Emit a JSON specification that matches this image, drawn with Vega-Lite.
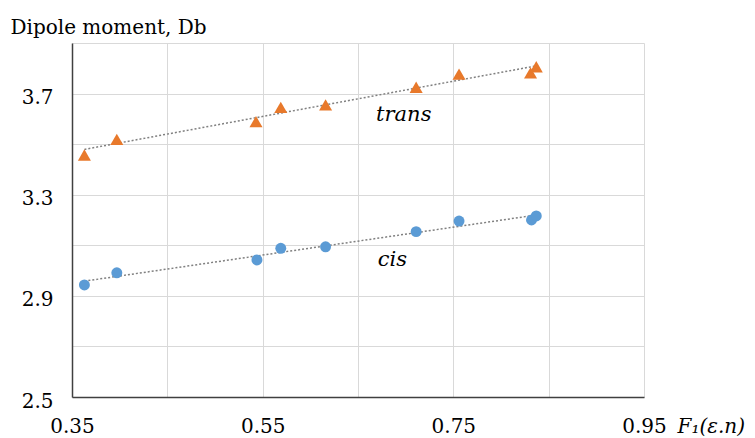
{
  "$schema": "https://vega.github.io/schema/vega-lite/v6.json",
  "autosize": {"type": "none"},
  "width": 572,
  "height": 354,
  "padding": {"left": 72, "top": 43, "right": 111, "bottom": 41},
  "background": "white",
  "config": {
    "view": {"stroke": null},
    "axis": {"labelFont": "DejaVu Serif", "titleFont": "DejaVu Serif", "labelColor": "#000", "titleColor": "#000", "labelFontSize": 20, "titleFontSize": 20, "titleFontWeight": "normal", "gridColor": "#d9d9d9", "gridWidth": 1, "ticks": false, "domainColor": "#404040", "domainWidth": 1.5}
  },
  "datasets": {
    "pts": [
      {"series": "trans", "x": 0.363, "y": 3.457},
      {"series": "trans", "x": 0.397, "y": 3.519},
      {"series": "trans", "x": 0.543, "y": 3.589},
      {"series": "trans", "x": 0.569, "y": 3.645},
      {"series": "trans", "x": 0.616, "y": 3.655},
      {"series": "trans", "x": 0.711, "y": 3.725},
      {"series": "trans", "x": 0.756, "y": 3.777},
      {"series": "trans", "x": 0.831, "y": 3.782},
      {"series": "trans", "x": 0.837, "y": 3.806},
      {"series": "cis", "x": 0.363, "y": 2.943},
      {"series": "cis", "x": 0.397, "y": 2.991},
      {"series": "cis", "x": 0.544, "y": 3.042},
      {"series": "cis", "x": 0.569, "y": 3.088},
      {"series": "cis", "x": 0.616, "y": 3.094},
      {"series": "cis", "x": 0.711, "y": 3.154},
      {"series": "cis", "x": 0.756, "y": 3.196},
      {"series": "cis", "x": 0.832, "y": 3.2},
      {"series": "cis", "x": 0.837, "y": 3.216}
    ],
    "labels": [
      {"x": 0.698, "y": 3.615, "label": "trans"},
      {"x": 0.686, "y": 3.042, "label": "cis"}
    ]
  },
  "layer": [
    {
      "data": {"name": "pts"},
      "transform": [{"regression": "y", "on": "x", "groupby": ["series"]}],
      "mark": {"type": "line", "color": "#808080", "strokeWidth": 1.5, "strokeDash": [2, 2]},
      "encoding": {
        "x": {"field": "x", "type": "quantitative", "scale": {"domain": [0.35, 0.95], "nice": false, "zero": false},
          "axis": {"values": [0.35, 0.45, 0.55, 0.65, 0.75, 0.85, 0.95], "labelExpr": "(round(datum.value*100)-35) % 20 == 0 ? datum.label : ''", "labelPadding": 19, "labelFlush": false, "title": "F₁(ε.n)", "titleFontStyle": "italic", "titleAlign": "left", "titleX": 605, "titleY": 35, "titleBaseline": "alphabetic"}},
        "y": {"field": "y", "type": "quantitative", "scale": {"domain": [2.5, 3.9], "nice": false, "zero": false},
          "axis": {"values": [2.5, 2.7, 2.9, 3.1, 3.3, 3.5, 3.7, 3.9], "labelExpr": "(round(datum.value*10)-25) % 4 == 0 ? datum.label : ''", "labelPadding": 19, "labelOffset": 4, "labelFlush": false, "format": ".1f", "title": "Dipole moment, Db", "titleAngle": 0, "titleAlign": "left", "titleX": -62, "titleY": -10, "titleBaseline": "alphabetic"}},
        "detail": {"field": "series"}
      }
    },
    {
      "data": {"name": "pts"},
      "mark": {"type": "point", "filled": true, "opacity": 1},
      "encoding": {
        "x": {"field": "x", "type": "quantitative"},
        "y": {"field": "y", "type": "quantitative"},
        "shape": {"field": "series", "type": "nominal", "scale": {"domain": ["trans", "cis"], "range": ["triangle-up", "circle"]}, "legend": null},
        "color": {"field": "series", "type": "nominal", "scale": {"domain": ["trans", "cis"], "range": ["#E8792B", "#5B9BD5"]}, "legend": null},
        "size": {"field": "series", "type": "nominal", "scale": {"domain": ["trans", "cis"], "range": [170, 120]}, "legend": null}
      }
    },
    {
      "data": {"name": "labels"},
      "mark": {"type": "text", "font": "DejaVu Serif", "fontStyle": "italic", "fontSize": 21, "color": "#000", "baseline": "middle", "align": "center"},
      "encoding": {
        "x": {"field": "x", "type": "quantitative"},
        "y": {"field": "y", "type": "quantitative"},
        "text": {"field": "label"}
      }
    }
  ]
}
